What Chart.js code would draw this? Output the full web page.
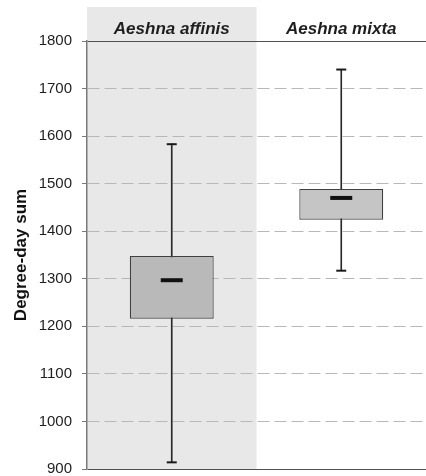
<!DOCTYPE html>
<html>
<head>
<meta charset="utf-8">
<script src="https://cdn.jsdelivr.net/npm/chart.js@4/dist/chart.umd.min.js"></script>
<style>
  html, body { margin: 0; padding: 0; background: #fff; }
  #wrap { width: 426px; height: 476px; }
</style>
</head>
<body>
<div id="wrap"><canvas id="c" width="426" height="476"></canvas></div>
<script>
// Degree-day sums per species: whiskers, quartiles and medians
const categories = ['Aeshna affinis', 'Aeshna mixta'];
const whiskerMin = [914, 1317];
const quartile1 = [1216, 1424];
const medians = [1297, 1470];
const quartile3 = [1348, 1489];
const whiskerMax = [1583, 1740];
const yTicks = [900, 1000, 1100, 1200, 1300, 1400, 1500, 1600, 1700, 1800];

const FONT = '"Liberation Sans", Arial, sans-serif';

// Shaded column behind the first species, reaching up into the header strip
const shadePlugin = {
  id: 'shade',
  beforeDraw(chart) {
    const { ctx, scales: { x, y } } = chart;
    const left = x.left;
    const mid = (x.getPixelForValue(0) + x.getPixelForValue(1)) / 2;
    ctx.save();
    ctx.fillStyle = '#e8e8e8';
    ctx.fillRect(left, x.top, mid - left, y.bottom - x.top);
    ctx.restore();
  }
};

new Chart(document.getElementById('c'), {
  data: {
    labels: categories,
    datasets: [
      {
        type: 'bar',
        label: 'whisker',
        data: categories.map((_, i) => [whiskerMin[i], whiskerMax[i]]),
        backgroundColor: '#2a2a2a',
        barThickness: 1,
        grouped: false,
        order: 3
      },
      {
        type: 'bar',
        label: 'box',
        data: categories.map((_, i) => [quartile1[i], quartile3[i]]),
        backgroundColor: ['#b9b9b9', '#c5c5c5'],
        borderColor: '#404040',
        borderWidth: 1.2,
        borderSkipped: false,
        categoryPercentage: 1,
        barPercentage: 0.495,
        grouped: false,
        order: 2
      },
      {
        type: 'line',
        label: 'caps',
        data: whiskerMin,
        showLine: false,
        pointStyle: 'line',
        pointRadius: 5,
        pointHoverRadius: 5,
        pointBorderWidth: 2,
        borderColor: '#1a1a1a',
        order: 1
      },
      {
        type: 'line',
        label: 'caps',
        data: whiskerMax,
        showLine: false,
        pointStyle: 'line',
        pointRadius: 5,
        pointHoverRadius: 5,
        pointBorderWidth: 2,
        borderColor: '#1a1a1a',
        order: 1
      },
      {
        type: 'line',
        label: 'median',
        data: medians,
        showLine: false,
        pointStyle: 'line',
        pointRadius: 11,
        pointHoverRadius: 11,
        pointBorderWidth: 4,
        borderColor: '#111111',
        order: 0
      }
    ]
  },
  options: {
    responsive: false,
    animation: false,
    layout: { autoPadding: false, padding: { top: 7, bottom: 7, left: 0, right: 0 } },
    plugins: {
      legend: { display: false },
      tooltip: { enabled: false }
    },
    scales: {
      x: {
        type: 'category',
        position: 'top',
        offset: true,
        grid: { display: false, drawTicks: false },
        border: { display: false },
        ticks: {
          padding: 1,
          color: '#1e1e1e',
          font: { family: FONT, size: 17, weight: 'bold', style: 'italic' }
        },
        afterFit(scale) {
          scale.height = 34;
          scale.paddingLeft = 0;
          scale.paddingRight = 0;
        }
      },
      y: {
        type: 'linear',
        position: 'left',
        min: yTicks[0],
        max: yTicks[yTicks.length - 1],
        afterBuildTicks(scale) { scale.ticks = yTicks.map(v => ({ value: v })); },
        ticks: {
          padding: 10,
          color: '#1e1e1e',
          font: { family: FONT, size: 15 },
          callback: v => String(v)
        },
        grid: {
          color: ctx => {
            const v = ctx.tick && ctx.tick.value;
            if (v === yTicks[yTicks.length - 1]) return '#505050';
            if (v === yTicks[0]) return '#505050';
            return '#b8b8b8';
          },
          lineWidth: 1,
          tickLength: 5,
          tickColor: '#777777'
        },
        border: {
          display: true,
          color: '#7a7a7a',
          width: 1.5,
          dash: ctx => {
            const v = ctx.tick && ctx.tick.value;
            if (v === yTicks[0] || v === yTicks[yTicks.length - 1]) return [];
            return [12, 5];
          }
        },
        title: {
          display: true,
          text: 'Degree-day sum',
          color: '#111111',
          font: { family: FONT, size: 17, weight: 'bold' },
          padding: { top: 11, bottom: 0 }
        },
        afterFit(scale) {
          scale.width = 87;
          scale.paddingTop = 0;
          scale.paddingBottom = 0;
        }
      }
    }
  },
  plugins: [shadePlugin]
});
</script>
</body>
</html>
